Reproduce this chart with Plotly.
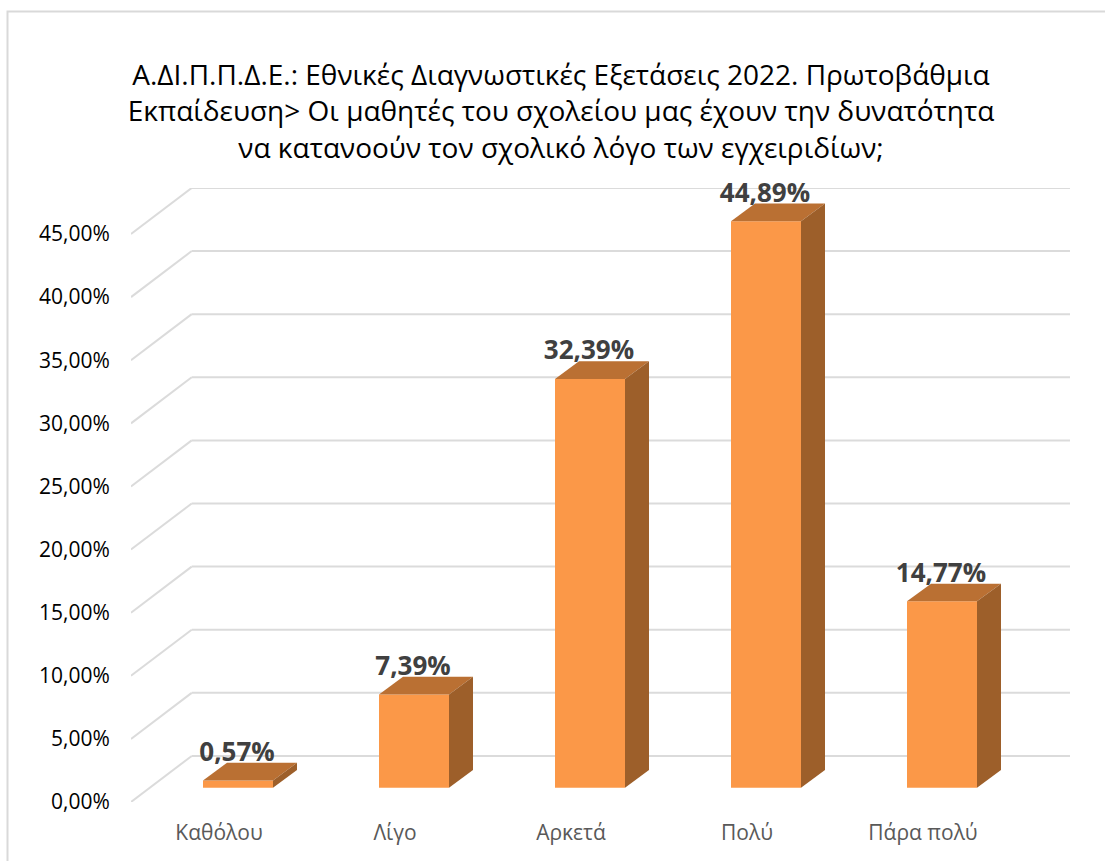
import plotly.graph_objects as go

categories = ["Καθόλου", "Λίγο", "Αρκετά", "Πολύ", "Πάρα πολύ"]
values = [0.57, 7.39, 32.39, 44.89, 14.77]
value_labels = ["0,57%", "7,39%", "32,39%", "44,89%", "14,77%"]
y_ticks = [0, 5, 10, 15, 20, 25, 30, 35, 40, 45]
y_tick_labels = ["0,00%", "5,00%", "10,00%", "15,00%", "20,00%", "25,00%", "30,00%", "35,00%", "40,00%", "45,00%"]
title = ("Α.ΔΙ.Π.Π.Δ.Ε.: Εθνικές Διαγνωστικές Εξετάσεις 2022. Πρωτοβάθμια<br>"
         "Εκπαίδευση> Οι μαθητές του σχολείου μας έχουν την δυνατότητα<br>"
         "να κατανοούν τον σχολικό λόγο των εγχειριδίων;")

W, H = 1105, 861
LEFT, RIGHT_PX, ZERO_PX, TOP_PX = 131, 1070, 801.7, 188.3
PX_X, PX_Y = 176.0, 12.61
WALL_DX, WALL_DY = 60.7 / PX_X, 46.0 / PX_Y
BAR_SHIFT, BAR_BASE = 19.0 / PX_X, 14.2 / PX_Y
BAR_W = 70.0 / PX_X
BAR_DX, BAR_DY = 24.0 / PX_X, 17.7 / PX_Y
x0 = -0.5
x1 = x0 + (RIGHT_PX - LEFT) / PX_X
y1 = (ZERO_PX - TOP_PX) / PX_Y
FONT = "Open Sans"
FRONT, TOP, SIDE = "#FB9848", "#BA7033", "#9D5F2A"
GRID = "#DBDBDB"

fig = go.Figure()

# walls: below-layer shapes so the bars cover them
for t in y_ticks:
    for xa, ya, xb, yb in [(x0, t, x0 + WALL_DX, t + WALL_DY), (x0 + WALL_DX, t + WALL_DY, x1, t + WALL_DY)]:
        fig.add_shape(type="line", xref="x", yref="y", x0=xa, y0=ya, x1=xb, y1=yb,
                      line=dict(color=GRID, width=2), layer="below")

# bars
xs = [i + BAR_SHIFT for i in range(len(values))]
fig.add_trace(go.Bar(x=xs, y=values, base=BAR_BASE, width=BAR_W,
                     marker=dict(color=FRONT, line=dict(width=0)), showlegend=False))
for x, v in zip(xs, values):
    l, r, b, t = x - BAR_W / 2, x + BAR_W / 2, BAR_BASE, BAR_BASE + v
    fig.add_trace(go.Scatter(
        x=[l, r, r + BAR_DX, l + BAR_DX, l], y=[t, t, t + BAR_DY, t + BAR_DY, t],
        mode="lines", fill="toself", fillcolor=TOP, line=dict(width=0), hoverinfo="skip", showlegend=False))
    fig.add_trace(go.Scatter(
        x=[r, r + BAR_DX, r + BAR_DX, r, r], y=[b, b + BAR_DY, t + BAR_DY, t, b],
        mode="lines", fill="toself", fillcolor=SIDE, line=dict(width=0), hoverinfo="skip", showlegend=False))

# value labels
fig.add_trace(go.Scatter(
    x=[x - 1.0 / PX_X for x in xs], y=[BAR_BASE + v + 26.0 / PX_Y for v in values],
    mode="text", text=value_labels, textposition="middle center", cliponaxis=False,
    textfont=dict(family=FONT, size=26, color="#404040", weight="bold"), showlegend=False))

fig.add_shape(type="rect", xref="paper", yref="paper", x0=(7.5 - LEFT) / (RIGHT_PX - LEFT),
              x1=(1130 - LEFT) / (RIGHT_PX - LEFT), y0=-0.2, y1=1 + (TOP_PX - 12) / (ZERO_PX - TOP_PX),
              line=dict(color="#D9D9D9", width=2), layer="below")

fig.update_layout(
    width=W, height=H, autosize=False,
    margin=dict(l=LEFT, r=W - RIGHT_PX, t=TOP_PX, b=H - ZERO_PX, pad=0),
    paper_bgcolor="white", plot_bgcolor="rgba(0,0,0,0)", showlegend=False,
    title=dict(text=title, x=561 / W, xanchor="center", y=1 - 85 / H, yanchor="top",
               font=dict(family=FONT, size=28, color="#000000")),
    xaxis=dict(range=[x0, x1], tickmode="array", tickvals=list(range(len(categories))), ticktext=categories,
               showgrid=False, zeroline=False, showline=False, ticks="outside", ticklen=12, tickcolor="rgba(0,0,0,0)",
               tickfont=dict(family=FONT, size=21, color="#595959")),
    yaxis=dict(range=[0, y1], tickmode="array", tickvals=y_ticks, ticktext=y_tick_labels,
               showgrid=False, zeroline=False, showline=False, ticks="outside", ticklen=16, tickcolor="rgba(0,0,0,0)",
               tickfont=dict(family=FONT, size=21, color="#000000")),
)
fig.write_html("out.html", config={"displayModeBar": False}, post_script="document.body.style.margin='0';")
